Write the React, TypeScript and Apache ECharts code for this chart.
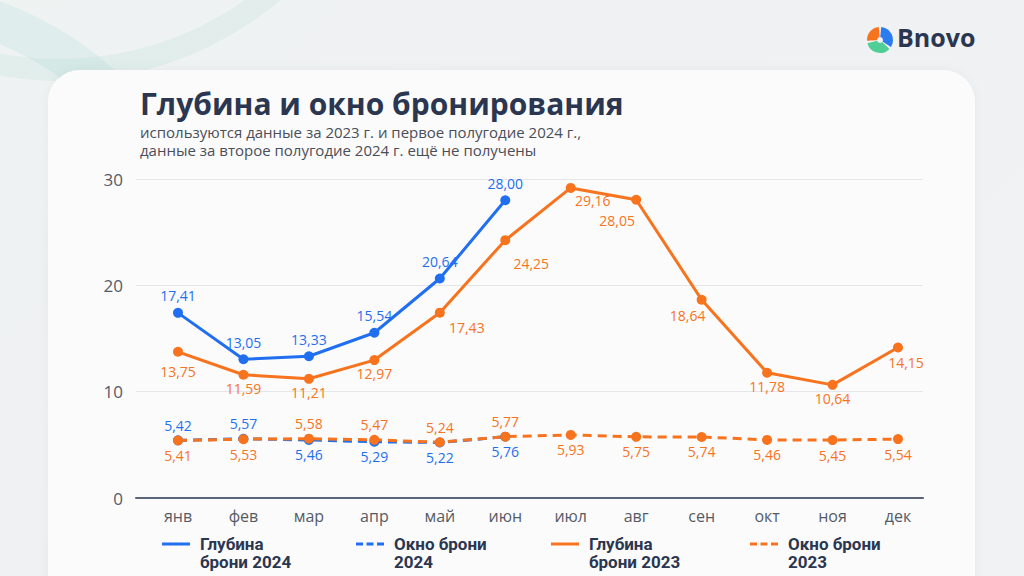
import React, { useEffect, useRef } from "react";
import * as echarts from "echarts";

const months = ["янв", "фев", "мар", "апр", "май", "июн", "июл", "авг", "сен", "окт", "ноя", "дек"];
const depth2024 = [17.41, 13.05, 13.33, 15.54, 20.64, 28.0, null, null, null, null, null, null];
const window2024 = [5.42, 5.57, 5.46, 5.29, 5.22, 5.76, null, null, null, null, null, null];
const depth2023 = [13.75, 11.59, 11.21, 12.97, 17.43, 24.25, 29.16, 28.05, 18.64, 11.78, 10.64, 14.15];
const window2023 = [5.41, 5.53, 5.58, 5.47, 5.24, 5.77, 5.93, 5.75, 5.74, 5.46, 5.45, 5.54];
const yMin = 0;
const yMax = 30;
const yStep = 10;
const seriesNames = ["Глубина\nброни 2024", "Окно брони\n2024", "Глубина\nброни 2023", "Окно брони\n2023"];

const TITLE = "Глубина и окно бронирования";
const SUBTITLE = "используются данные за 2023 г. и первое полугодие 2024 г.,\nданные за второе полугодие 2024 г. ещё не получены";

// label placement (style)
const w2024Pos = ["top", "top", "bottom", "bottom", "bottom", "bottom"];
const w2023Pos = ["bottom", "bottom", "top", "top", "top", "top", "bottom", "bottom", "bottom", "bottom", "bottom", "bottom"];
const d2023Off = [[0, 3], [0, -3], [0, -3], [0, -4], [27, -2], [26, 6], [22, -4], [-19, 4], [-14, -1], [0, -3], [0, -3], [8, -2]];

const BLUE = "#1f6ff0";
const ORANGE = "#f7731d";
const NAVY = "#2b3650";
const FONT = "'Open Sans', 'Noto Sans', sans-serif";

export default function App() {
  const ref = useRef<HTMLDivElement>(null);
  useEffect(() => {
    const chart = echarts.init(ref.current!, null, { renderer: "svg" });
    const fmt = (p: any) => {
      const v = Array.isArray(p.value) ? p.value[1] : p.value;
      return v == null ? "" : Number(v).toFixed(2).replace(".", ",");
    };
    const solidIcon = "path://M0,0H28V3H0Z";
    const dashIcon = "path://M0,0H7V3H0ZM10.5,0H17.5V3H10.5ZM21,0H28V3H21Z";
    const legendLeft = [162, 356, 551, 750];
    const labelBase = { fontSize: 14, fontFamily: FONT, formatter: fmt };

    const option: any = {
      animation: false,
      backgroundColor: "transparent",
      textStyle: { fontFamily: FONT },
      title: {
        text: TITLE,
        subtext: SUBTITLE,
        left: 135,
        top: 81,
        itemGap: 3,
        textStyle: { fontSize: 30, fontWeight: "bold", color: NAVY, fontFamily: FONT, lineHeight: 34 },
        subtextStyle: { fontSize: 15, color: "#4a4e57", lineHeight: 18, fontFamily: FONT },
      },
      graphic: [
        { type: "circle", z: -20, shape: { cx: -120, cy: 330, r: 330 }, style: { fill: "none", stroke: "rgba(150,205,205,0.16)", lineWidth: 40 } },
        { type: "circle", z: -20, shape: { cx: 60, cy: -260, r: 330 }, style: { fill: "none", stroke: "rgba(150,210,195,0.14)", lineWidth: 22 } },
        {
          type: "rect", z: -10,
          shape: { x: 48, y: 70, width: 927, height: 560, r: 32 },
          style: { fill: "#fbfbfc", shadowBlur: 12, shadowColor: "rgba(0,0,0,0.04)" },
        },
        { type: "sector", shape: { cx: 880, cy: 40, r: 13, r0: 0, startAngle: Math.PI * 0.98, endAngle: Math.PI * 1.47 }, style: { fill: "#f7731d" } },
        { type: "sector", shape: { cx: 880, cy: 40, r: 13, r0: 0, startAngle: Math.PI * 1.53, endAngle: Math.PI * 2.18 }, style: { fill: "#2a7cf0" } },
        { type: "sector", shape: { cx: 880, cy: 40, r: 13, r0: 0, startAngle: Math.PI * 0.24, endAngle: Math.PI * 0.92 }, style: { fill: "#4fcf96" } },
        { type: "circle", shape: { cx: 880, cy: 40, r: 3 }, style: { fill: "#f0f1f3" } },
        {
          type: "text", left: 897, top: 24,
          style: { text: "Bnovo", fontSize: 25, fontWeight: "bold", fill: NAVY, fontFamily: FONT },
        },
      ],
      legend: seriesNames.map((name, i) => ({
        data: [{ name, icon: i % 2 ? dashIcon : solidIcon }],
        left: legendLeft[i],
        top: 517,
        itemWidth: 28,
        itemHeight: 3,
        padding: 0,
        itemGap: 0,
        selectedMode: false,
        formatter: (n: string) => "\n" + n,
        textStyle: { fontSize: 17, fontWeight: "bold", color: NAVY, lineHeight: 18, padding: [0, 0, 0, 5], fontFamily: "Roboto, sans-serif" },
      })),
      grid: [
        { left: 136, right: 101, top: 179, bottom: 78 },
        { left: 178, right: 126, top: 179, bottom: 78 },
      ],
      xAxis: [
        {
          gridIndex: 0, type: "value", min: 0, max: 1,
          axisLine: { show: true, lineStyle: { color: "#5c6478", width: 2 } },
          axisTick: { show: false }, axisLabel: { show: false }, splitLine: { show: false },
        },
        {
          gridIndex: 1, type: "category", data: months, boundaryGap: false,
          axisLine: { show: false }, axisTick: { show: false },
          axisLabel: { interval: 0, color: "#555b66", fontSize: 16, margin: 10, fontFamily: FONT },
        },
      ],
      yAxis: [
        {
          gridIndex: 0, type: "value", min: yMin, max: yMax, interval: yStep,
          axisLine: { show: false }, axisTick: { show: false },
          axisLabel: { color: "#555b66", fontSize: 17, margin: 13, fontFamily: FONT },
          splitLine: { lineStyle: { color: "#e4e6ea", width: 1 } },
        },
        { gridIndex: 1, type: "value", min: yMin, max: yMax, interval: yStep, show: false },
      ],
      series: [
        {
          name: seriesNames[0], type: "line", xAxisIndex: 1, yAxisIndex: 1,
          data: depth2024, symbol: "circle", symbolSize: 10,
          itemStyle: { color: BLUE }, lineStyle: { color: BLUE, width: 3 },
          label: { show: true, position: "top", distance: 5, color: BLUE, ...labelBase },
        },
        {
          name: seriesNames[1], type: "line", xAxisIndex: 1, yAxisIndex: 1,
          data: window2024.map((v, i) => ({ value: v, label: { position: w2024Pos[i] } })),
          symbol: "circle", symbolSize: 10,
          itemStyle: { color: BLUE }, lineStyle: { color: BLUE, width: 3, type: [9, 6] },
          label: { show: true, distance: 3, color: BLUE, ...labelBase },
        },
        {
          name: seriesNames[2], type: "line", xAxisIndex: 1, yAxisIndex: 1,
          data: depth2023.map((v, i) => ({ value: v, label: { offset: d2023Off[i] } })),
          symbol: "circle", symbolSize: 10,
          itemStyle: { color: ORANGE }, lineStyle: { color: ORANGE, width: 3 },
          label: { show: true, position: "bottom", distance: 5, color: ORANGE, ...labelBase },
        },
        {
          name: seriesNames[3], type: "line", xAxisIndex: 1, yAxisIndex: 1,
          data: window2023.map((v, i) => ({ value: v, label: { position: w2023Pos[i] } })),
          symbol: "circle", symbolSize: 10,
          itemStyle: { color: ORANGE }, lineStyle: { color: ORANGE, width: 3, type: [9, 6] },
          label: { show: true, distance: 3, color: ORANGE, ...labelBase },
        },
      ],
    };
    chart.setOption(option);
    return () => chart.dispose();
  }, []);
  return (
    <div
      ref={ref}
      style={{ position: "fixed", left: 0, top: 0, width: 1024, height: 576, background: "linear-gradient(135deg, #eef3f2 0%, #f0f1f3 40%, #f1f2f4 100%)" }}
    />
  );
}
